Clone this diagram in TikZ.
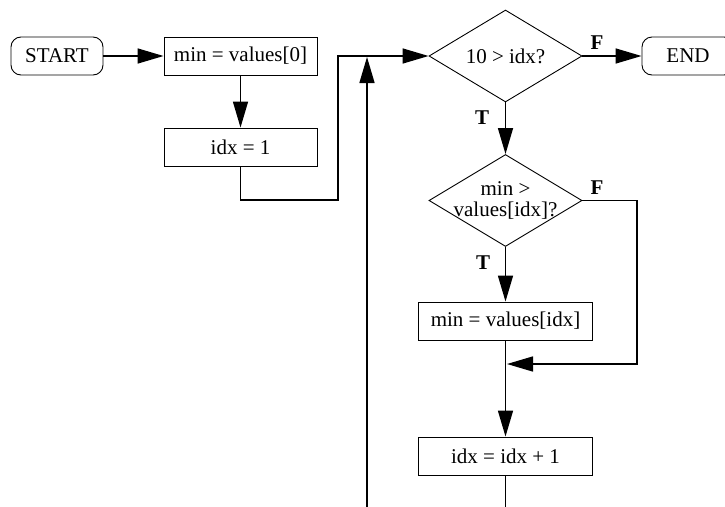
\documentclass[tikz,border=0pt]{standalone}
\usepackage{fontspec}
\setmainfont{Liberation Serif}
\usetikzlibrary{shapes.geometric,arrows.meta}
\begin{document}
\begin{tikzpicture}[x=1pt,y=-1pt,
  every node/.style={font=\fontsize{21}{21}\selectfont},
  term/.style={draw, rounded corners=10pt, minimum width=92pt, minimum height=38pt, inner sep=0pt, line width=0.9pt},
  proc/.style={draw, minimum width=153pt, minimum height=38pt, inner sep=0pt, line width=0.9pt},
  dec/.style={draw, diamond, minimum width=153pt, minimum height=92pt, inner sep=0pt, aspect=1.66, line width=0.9pt},
  flow/.style={line width=1.5pt, -{Triangle[length=26pt,width=15pt]}},
  wire/.style={line width=1.5pt},
  tf/.style={font=\fontsize{21}{20}\selectfont\bfseries, inner sep=0pt}
]
\useasboundingbox (0,0) rectangle (725,506);
\node[term] (start) at (57,56) {START};
\node[proc] (init) at (240.5,56) {min = values[0]};
\node[proc] (idx1) at (240.5,147) {idx = 1};
\node[dec, label={center:{10 > idx?}}] (cond1) at (505.5,56) {};
\node[term] (end) at (688,56) {END};
\node[dec, label={[align=center]center:{min >\\values[idx]?}}] (cond2) at (505.5,200.5) {};
\node[proc, minimum width=174pt] (upd) at (505.5,321) {min = values[idx]};
\node[proc, minimum width=174pt] (inc) at (505.5,456) {idx = idx + 1};

\draw[flow] (start) -- (init);
\draw[flow] (init) -- (idx1);
\coordinate (bend1) at (240.5,200);
\coordinate (bend2) at (338,200);
\coordinate (j1) at (338,56);
\draw[flow] (idx1.south) -- (bend1) -- (bend2) -- (j1) -- (cond1.west);

\draw[flow] (cond1.east) -- (end.west);
\node[tf] (f1) at (597,43) {F};
\draw[flow] (cond1.south) -- (cond2.north);
\node[tf] (t1) at (482,118) {T};
\draw[flow] (cond2.south) -- (upd.north);
\node[tf] (t2) at (483,263) {T};
\node[tf] (f2) at (597,188) {F};

\coordinate (r1) at (637,200.5);
\coordinate (r2) at (637,364);
\coordinate (merge) at (507,364);
\draw[flow] (cond2.east) -- (r1) -- (r2) -- (merge);
\draw[flow] (upd.south) -- (inc.north);
\coordinate (down) at (505.5,520);
\draw[wire] (inc.south) -- (down);
\coordinate (up) at (367,520);
\coordinate (loopin) at (367,57);
\draw[flow] (up) -- (loopin);
\end{tikzpicture}
\end{document}
